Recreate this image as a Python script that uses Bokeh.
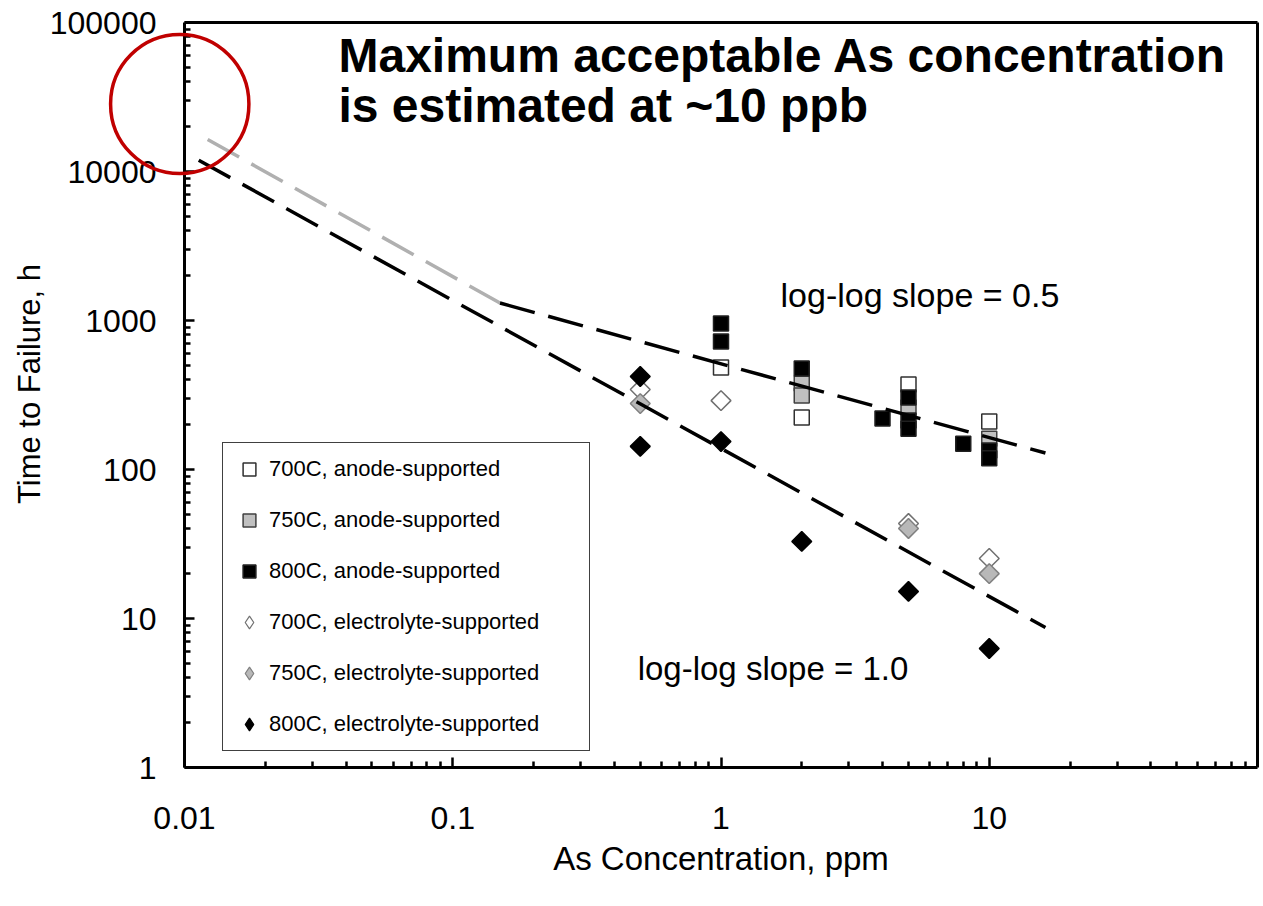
import numpy as np
from bokeh.plotting import figure
from bokeh.models import FixedTicker, CustomJSTickFormatter, Label, LogAxis
from bokeh.embed import file_html
from bokeh.resources import INLINE

# ---------------- data ----------------
x_ticks = [0.01, 0.1, 1, 10]
y_ticks = [1, 10, 100, 1000, 10000, 100000]
x_tick_labels = ["0.01", "0.1", "1", "10"]
y_tick_labels = ["1", "10", "100", "1000", "10000", "100000"]

a700_x = [1, 2, 5, 10]
a700_y = [484, 223, 372, 210]
a750_x = [2, 2, 5, 10]
a750_y = [378, 314, 261, 161]
a800_x = [1, 1, 2, 4, 5, 5, 5, 8, 10, 10]
a800_y = [955, 723, 476, 220, 304, 213, 188, 149, 134, 119]

e700_x = [0.5, 1, 5, 10]
e700_y = [344, 290, 43.4, 25.3]
e750_x = [0.5, 5, 10]
e750_y = [277, 40.2, 20.0]
e800_x = [0.5, 0.5, 1, 2, 5, 10]
e800_y = [421, 143, 154, 32.9, 15.2, 6.29]

# fitted trend lines (end points)
upper_ext_x = [0.0122, 0.15]
upper_ext_y = [16400, 1310]
upper_x = [0.15, 16.2]
upper_y = [1310, 129]
lower_x = [0.0113, 16.2]
lower_y = [11900, 8.7]

# highlight circle around the 0.01 ppm / ~28000 h point
circle_center_x = 0.0096
circle_center_y = 28400

FONT = "Liberation Sans"

# ---------------- geometry ----------------
# The plotting frame covers almost the whole canvas so that the red circle,
# which straddles the y axis, is not clipped.  The axes are drawn at fixed
# locations (x = 0.01, y = 1) and limited with bounds to the visible box.
CW, CH = 1263, 906
B = 4
AX_L, AX_R, AX_T, AX_B = 184, 1257, 22, 767      # pixel box of the axes
XDEC = (-2.0, 2.0)
YDEC = (0.0, 5.0)
ppd_x = (AX_R - AX_L) / (XDEC[1] - XDEC[0])
ppd_y = (AX_B - AX_T) / (YDEC[1] - YDEC[0])
x_start = 10 ** (XDEC[0] - (AX_L - B) / ppd_x)
x_end = 10 ** (XDEC[1] + ((CW - B) - AX_R) / ppd_x)
y_end = 10 ** (YDEC[1] + (AX_T - B) / ppd_y)
y_start = 10 ** (YDEC[0] - ((CH - B) - AX_B) / ppd_y)
X0, X1 = 10 ** XDEC[0], 10 ** XDEC[1]
Y0, Y1 = 10 ** YDEC[0], 10 ** YDEC[1]

p = figure(
    x_axis_type="log", y_axis_type="log",
    x_range=(x_start, x_end), y_range=(y_start, y_end),
    frame_width=CW - 2 * B, frame_height=CH - 2 * B,
    min_border_left=B, min_border_right=B, min_border_top=B, min_border_bottom=B,
    output_backend="svg", toolbar_location=None,
)
p.title.visible = False
p.xgrid.visible = False
p.ygrid.visible = False
p.outline_line_color = None
p.background_fill_color = "white"
p.border_fill_color = "white"

x_minor = [k * d for d in [0.01, 0.1, 1, 10] for k in range(2, 10)]
y_minor = [k * d for d in [1, 10, 100, 1000, 10000] for k in range(2, 10)]
p.xaxis.ticker = FixedTicker(ticks=x_ticks, minor_ticks=x_minor)
p.yaxis.ticker = FixedTicker(ticks=y_ticks, minor_ticks=y_minor)
p.xaxis.fixed_location = Y0
p.yaxis.fixed_location = X0
p.xaxis.bounds = (X0, X1)
p.yaxis.bounds = (Y0, Y1)


def style_axis(ax, ticks=True):
    ax.axis_line_width = 3
    ax.axis_line_color = "black"
    ax.major_tick_in = 10 if ticks else 0
    ax.major_tick_out = 0
    ax.minor_tick_in = 6 if ticks else 0
    ax.minor_tick_out = 0
    ax.major_tick_line_width = 2.5
    ax.minor_tick_line_width = 2.5
    ax.major_tick_line_color = "black" if ticks else None
    ax.minor_tick_line_color = "black" if ticks else None
    ax.formatter = CustomJSTickFormatter(code="return '';")
    ax.major_label_text_font_size = "1px"
    ax.major_label_standoff = 0
    ax.axis_label = None


style_axis(p.xaxis[0])
style_axis(p.yaxis[0])

# top and right edges of the box
top_ax = LogAxis(ticker=FixedTicker(ticks=[], minor_ticks=[]), fixed_location=Y1, bounds=(X0, X1))
right_ax = LogAxis(ticker=FixedTicker(ticks=[], minor_ticks=[]), fixed_location=X1, bounds=(Y0, Y1))
style_axis(top_ax, ticks=False)
style_axis(right_ax, ticks=False)
p.add_layout(top_ax, "above")
p.add_layout(right_ax, "right")

# tick labels and axis titles
for t, s in zip(x_ticks, x_tick_labels):
    p.add_layout(Label(x=t, y=Y0, y_offset=-50, text=s, text_font=FONT,
                       text_font_size="32px", text_align="center",
                       text_baseline="middle", text_color="black"))
for t, s in zip(y_ticks, y_tick_labels):
    p.add_layout(Label(x=X0, y=t, x_offset=-28, text=s, text_font=FONT,
                       text_font_size="32px", text_align="right",
                       text_baseline="middle", text_color="black"))
p.add_layout(Label(x=1, y=Y0, y_offset=-91, text="As Concentration, ppm",
                   text_font=FONT, text_font_size="33px", text_align="center",
                   text_baseline="middle", text_color="black"))
p.add_layout(Label(x=X0, y=375, x_offset=-155.5, text="Time to Failure, h",
                   angle=np.pi / 2, text_font=FONT, text_font_size="31px",
                   text_align="center", text_baseline="middle", text_color="black"))

# ---------------- markers ----------------
SQ = 15
DM = 14
rot = np.pi / 4
p.scatter(a700_x, a700_y, marker="square", size=SQ, fill_color="white",
          line_color="#303030", line_width=1.5, legend_label="700C, anode-supported")
p.scatter(a750_x, a750_y, marker="square", size=SQ, fill_color="#c0c0c0",
          line_color="#404040", line_width=1.5, legend_label="750C, anode-supported")
p.scatter(a800_x, a800_y, marker="square", size=SQ, fill_color="black",
          line_color="#202020", line_width=1.5, legend_label="800C, anode-supported")

e_styles = [
    (e700_x, e700_y, "white", "#707070", "700C, electrolyte-supported"),
    (e750_x, e750_y, "#b8b8b8", "#808080", "750C, electrolyte-supported"),
    (e800_x, e800_y, "black", "black", "800C, electrolyte-supported"),
]
# diamond renderers (used for the legend), covered by the equal-sided diamonds below
for ex, ey, fc, lc, lab in e_styles:
    p.scatter(ex, ey, marker="diamond", size=15, fill_color=fc,
              line_color=lc, line_width=1.2, legend_label=lab)
for ex, ey, fc, lc, lab in e_styles:
    p.scatter(ex, ey, marker="square", angle=rot, size=DM, fill_color=fc,
              line_color=lc, line_width=1.5)

# ---------------- trend lines ----------------
DASH = "36 14"
p.line(upper_ext_x, upper_ext_y, line_color="#b0b0b0", line_width=3.5, line_dash=DASH)
p.line(upper_x, upper_y, line_color="black", line_width=3.5, line_dash=DASH)
p.line(lower_x, lower_y, line_color="black", line_width=3.5, line_dash=DASH)

# ---------------- legend ----------------
leg = p.legend[0]
leg.location = (AX_L + 38 - B, (CH - B) - (AX_B - 16))
leg.margin = 0
leg.padding = 10
leg.spacing = 19
leg.glyph_width = 32
leg.glyph_height = 32
leg.label_height = 32
leg.label_width = 310
leg.label_standoff = 4
leg.label_text_font = FONT
leg.label_text_font_size = "22px"
leg.label_text_color = "black"
leg.border_line_color = "#404040"
leg.border_line_width = 1.5
leg.border_line_alpha = 1.0
leg.background_fill_color = "white"
leg.background_fill_alpha = 1.0

# ---------------- texts ----------------
p.add_layout(Label(x=1.667, y=1472, text="log-log slope = 0.5", text_font=FONT,
                   text_font_size="34px", text_baseline="middle", text_color="black"))
p.add_layout(Label(x=0.489, y=4.62, text="log-log slope = 1.0", text_font=FONT,
                   text_font_size="33px", text_baseline="middle", text_color="black"))
p.add_layout(Label(x=0.0375, y=60100, text="Maximum acceptable As concentration",
                   text_font=FONT, text_font_size="48px", text_font_style="bold",
                   text_baseline="middle", text_color="black"))
p.add_layout(Label(x=0.0375, y=27700, text="is estimated at ~10 ppb",
                   text_font=FONT, text_font_size="48px", text_font_style="bold",
                   text_baseline="middle", text_color="black"))

# ---------------- red circle ----------------
ring = Label(
    x=circle_center_x, y=circle_center_y, text=" ",
    text_font_size="1px", text_align="center", text_baseline="middle",
    padding=69, border_radius=70,
    border_line_color="#c00000", border_line_width=3.5, border_line_alpha=1.0,
    background_fill_color=None, level="overlay",
)
p.add_layout(ring)

open("out.html", "w").write(file_html(p, INLINE))
